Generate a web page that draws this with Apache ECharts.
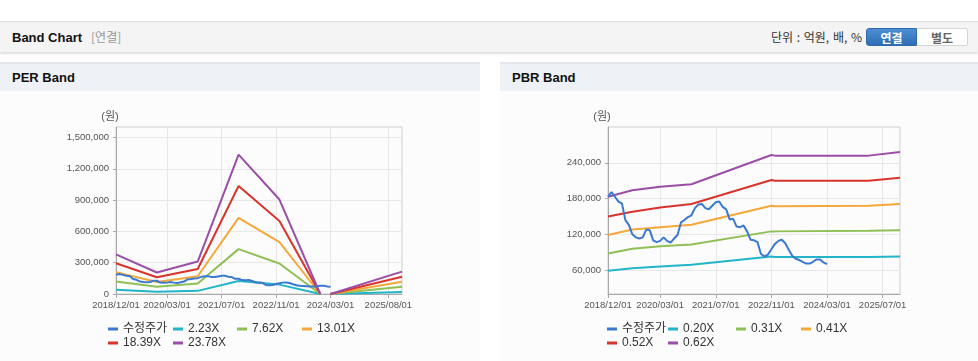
<!DOCTYPE html>
<html><head><meta charset="utf-8">
<script src="https://cdn.jsdelivr.net/npm/echarts@6/dist/echarts.min.js"></script>
<style>
html,body{margin:0;padding:0;width:978px;height:361px;overflow:hidden;background:#fff;font-family:"Liberation Sans",Arial,"Noto Sans CJK KR",sans-serif;}
#hdr{position:absolute;left:0;top:21px;width:978px;height:30px;background:#f4f4f4;border-top:1px solid #e2e2e2;box-shadow:0 2px 2px rgba(0,0,0,0.13);z-index:2;}
#hdr .t{position:absolute;left:12px;top:0;line-height:30px;font-size:13px;font-weight:bold;color:#111;}
#hdr .t span{font-weight:normal;color:#999;font-size:12px;margin-left:9px;font-family:"Noto Sans CJK KR",sans-serif;}
#unit{position:absolute;right:116px;top:0;line-height:30px;font-size:12px;color:#333;font-family:"Noto Sans CJK KR",sans-serif;word-spacing:1px;}
#btns{position:absolute;left:866px;top:6px;height:18px;display:flex;}
#btns div{width:51px;height:18px;line-height:18px;text-align:center;font-size:12px;font-weight:bold;font-family:"Noto Sans CJK KR",sans-serif;box-sizing:border-box;}
#btns .on{background:linear-gradient(#4d8ed3,#2e6db3);color:#fff;border-radius:3px 0 0 3px;border:1px solid #2f6aab;}
#btns .off{background:#fff;color:#666;border:1px solid #d5d5d5;border-left:none;border-radius:0 3px 3px 0;}
.panel{position:absolute;top:62px;height:299px;background:#fcfcfd;}
.ptitle{height:27px;background:#eef1f6;border-top:2px solid #e3e6eb;font-size:13px;font-weight:bold;padding-left:12px;line-height:27px;color:#111;}
.chart{position:absolute;top:90px;height:271px;}
</style></head>
<body>
<div id="hdr"><div class="t">Band Chart<span>[연결]</span></div>
<div id="unit">단위 : 억원, 배, %</div>
<div id="btns"><div class="on">연결</div><div class="off">별도</div></div></div>
<div class="panel" style="left:0;width:480px"><div class="ptitle">PER Band</div></div>
<div class="panel" style="left:500px;width:478px"><div class="ptitle">PBR Band</div></div>
<div id="per" class="chart" style="left:0;width:480px"></div>
<div id="pbr" class="chart" style="left:500px;width:478px"></div>
<script>
// monthly categories 2018/12/01 .. 2025/12/01
const months = [];
for (let y = 2018, m = 12; y < 2025 || (y === 2025 && m <= 12);) {
  months.push(y + '/' + String(m).padStart(2, '0') + '/01');
  m++; if (m > 12) { m = 1; y++; }
}
const perTickLabels = ['2018/12/01','2020/03/01','2021/07/01','2022/11/01','2024/03/01','2025/08/01'];
const pbrTickLabels = ['2018/12/01','2020/03/01','2021/07/01','2022/11/01','2024/03/01','2025/07/01'];
const perYTicks = [0, 300000, 600000, 900000, 1200000, 1500000];
const pbrYTicks = [60000, 120000, 180000, 240000];

// 수정주가 (monthly, 2018/12 .. 2024/03)
const price = [183000,191000,183000,175000,172000,144000,136000,120000,115000,113000,115000,128000,
  127000,110000,107000,109000,115000,109000,106000,113000,119000,140000,144000,149000,
  152000,164000,170000,171000,164000,162000,168000,174000,175000,166000,162000,145000,
  146000,133000,132000,135000,125000,111000,110000,107000,87000,83000,86000,95000,
  104000,109000,111000,105000,94000,84000,79000,77000,74000,71000,71000,74000,
  78000,78000,73000,70000];

// PER band key points
const perDates = ['2018/12/01','2019/12/01','2020/12/01','2021/12/01','2022/12/01','2023/12/01','2024/01/01','2024/03/01','2025/12/01'];
const per223  = [40000, 22000, 30000, 125000, 90000, 0, null, 0, 20000];
const per762  = [120000, 70000, 100000, 430000, 292000, 0, null, 0, 69000];
const per1301 = [208000, 115000, 170000, 730000, 497000, 0, null, 0, 118000];
const per1839 = [294000, 160000, 240000, 1035000, 700000, 0, null, 0, 166000];
const per2378 = [380000, 206000, 311000, 1336000, 905000, 0, null, 0, 214000];

// PBR band key points
const pbrDates = ['2018/12/01','2019/07/01','2020/03/01','2020/12/01','2022/11/01','2022/12/01','2025/03/01','2025/12/01'];
const pbr020 = [59000, 63000, 66000, 69000, 83000, 82000, 82000, 83000];
const pbr031 = [88000, 96000, 100000, 103000, 125000, 125000, 126000, 127000];
const pbr041 = [119000, 128000, 132000, 136000, 168000, 167000, 168000, 171000];
const pbr052 = [150000, 158000, 165000, 171000, 211000, 210000, 210000, 215000];
const pbr062 = [183000, 194000, 200000, 204000, 253000, 252000, 252000, 258000];

const colors = {price:'#3b78d0', c1:'#22b5c9', c2:'#8fbf55', c3:'#f5a83a', c4:'#d8342b', c5:'#9b4ea6'};
const FONT = '"Liberation Sans", Arial, "Noto Sans CJK KR", sans-serif';

function zip(dates, vals) { return dates.map((d, i) => [d, vals[i] == null ? '-' : vals[i]]); }

function lineSeries(name, data, color, z) {
  return { name, type: 'line', data, showSymbol: false, symbol: 'none', connectNulls: false,
    lineStyle: { width: 2, color }, itemStyle: { color }, z: z || 2, animation: false };
}

// one legend component per item so each sits in a fixed column
function legends(names, lefts) {
  const rows = [233, 247];
  return names.map((n, i) => ({
    data: [n], top: rows[i < 4 ? 0 : 1], left: lefts[i % 4], orient: 'horizontal',
    icon: 'rect', itemWidth: 10, itemHeight: 3, itemGap: 0, padding: 0,
    textStyle: { fontSize: 12, color: '#333', fontFamily: FONT }
  }));
}

function buildOption(o) {
  const labSet = new Set(o.tickLabels);
  const pick = (i, v) => labSet.has(v);
  return {
    animation: false,
    textStyle: { fontFamily: FONT },
    grid: { left: o.grid[0], top: o.grid[1], width: o.grid[2], height: o.grid[3], show: true,
      borderColor: '#cfcfcf', borderWidth: 1, backgroundColor: 'transparent' },
    legend: legends(o.names, o.legendLefts),
    xAxis: { type: 'category', data: months, boundaryGap: false,
      axisLine: { lineStyle: { color: '#a8a8a8' } },
      axisTick: { interval: pick, length: 4, lineStyle: { color: '#a8a8a8' } },
      axisLabel: { interval: pick, fontSize: 9.5, color: '#555', margin: 7 },
      splitLine: { show: true, interval: pick, lineStyle: { color: '#e8e8e8' } } },
    yAxis: { type: 'value', min: o.yMin, max: o.yMax,
      name: '(원)', nameLocation: 'end', nameGap: 10,
      nameTextStyle: { fontSize: 11, color: '#555', align: 'center', verticalAlign: 'middle', padding: [0, 12, 0, 0] },
      axisLine: { show: true, lineStyle: { color: '#a8a8a8' } },
      axisTick: { show: true, length: 3, customValues: o.yTicks, lineStyle: { color: '#a8a8a8' } },
      axisLabel: { customValues: o.yTicks, fontSize: 9.5, color: '#555', margin: 7,
        formatter: v => Number(v).toLocaleString('en-US') },
      splitLine: { show: true, lineStyle: { color: '#e8e8e8' } } },
    series: o.series
  };
}

const priceData = months.slice(0, price.length).map((d, i) => [d, price[i]]);

const perNames = ['수정주가','2.23X','7.62X','13.01X','18.39X','23.78X'];
const perChart = echarts.init(document.getElementById('per'), null, { renderer: 'canvas' });
perChart.setOption(buildOption({
  tickLabels: perTickLabels, grid: [116, 37, 286, 167], yMin: 0, yMax: 1600000, yTicks: perYTicks,
  legendLefts: [108, 173, 237, 302], names: perNames,
  series: [
    lineSeries('수정주가', priceData, colors.price, 5),
    lineSeries('2.23X', zip(perDates, per223), colors.c1),
    lineSeries('7.62X', zip(perDates, per762), colors.c2),
    lineSeries('13.01X', zip(perDates, per1301), colors.c3),
    lineSeries('18.39X', zip(perDates, per1839), colors.c4),
    lineSeries('23.78X', zip(perDates, per2378), colors.c5)
  ]
}));

const pbrNames = ['수정주가','0.20X','0.31X','0.41X','0.52X','0.62X'];
const pbrChart = echarts.init(document.getElementById('pbr'), null, { renderer: 'canvas' });
pbrChart.setOption(buildOption({
  tickLabels: pbrTickLabels, grid: [108, 37, 292, 167], yMin: 20000, yMax: 300000, yTicks: pbrYTicks,
  legendLefts: [107, 168, 236, 301], names: pbrNames,
  series: [
    lineSeries('수정주가', priceData, colors.price, 5),
    lineSeries('0.20X', zip(pbrDates, pbr020), colors.c1),
    lineSeries('0.31X', zip(pbrDates, pbr031), colors.c2),
    lineSeries('0.41X', zip(pbrDates, pbr041), colors.c3),
    lineSeries('0.52X', zip(pbrDates, pbr052), colors.c4),
    lineSeries('0.62X', zip(pbrDates, pbr062), colors.c5)
  ]
}));
</script>
</body></html>
